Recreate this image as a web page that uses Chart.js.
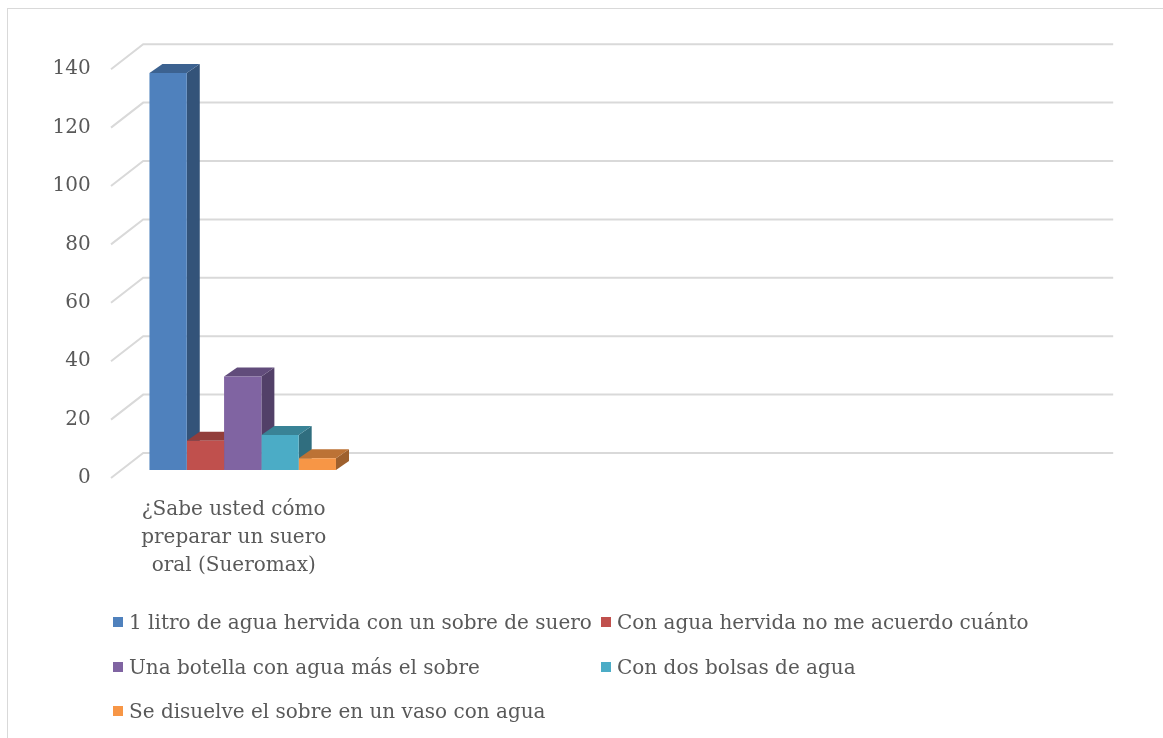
<!DOCTYPE html>
<html>
<head>
<meta charset="utf-8">
<script src="https://cdn.jsdelivr.net/npm/chart.js@4.4.1/dist/chart.umd.min.js"></script>
<style>
  html, body { margin:0; padding:0; background:#fff; overflow:hidden; }
  #wrap { position:relative; width:1163px; height:738px; overflow:hidden; }
  #frame { position:absolute; left:7px; top:8px; width:1300px; height:900px; border:1px solid #d9d9d9; box-sizing:border-box; }
  canvas { position:absolute; left:0; top:0; }
  #legend { position:absolute; left:113px; top:600px; display:grid; grid-template-columns:488px auto; grid-auto-rows:44.5px;
            font-family:'DejaVu Serif', serif; font-size:20px; color:#595959; }
  #legend .item { display:flex; align-items:center; white-space:nowrap; }
  #legend .sw { display:inline-block; width:10px; height:10px; margin-right:6px; }
</style>
</head>
<body>
<div id="wrap">
  <div id="frame"></div>
  <canvas id="c" width="1163" height="738"></canvas>
  <div id="legend"></div>
</div>
<script>
// ---- data ----
const categories = [["¿Sabe usted cómo", "preparar un suero", "oral (Sueromax)"], "", "", ""];
const seriesNames = [
  "1 litro de agua hervida con un sobre de suero",
  "Con agua hervida no me acuerdo cuánto",
  "Una botella con agua más el sobre",
  "Con dos bolsas de agua",
  "Se disuelve el sobre en un vaso con agua"
];
const seriesValues = [136, 10, 32, 12, 4];
const seriesColors = ["#4F81BD", "#C0504D", "#8064A2", "#4BACC6", "#F79646"];
const yTicks = [0, 20, 40, 60, 80, 100, 120, 140];

// ---- helpers ----
function shade(hex, f) {
  const n = parseInt(hex.slice(1), 16);
  const r = Math.round(((n >> 16) & 255) * f), g = Math.round(((n >> 8) & 255) * f), b = Math.round((n & 255) * f);
  return `rgb(${r},${g},${b})`;
}

const DX = 13, DY = 9;             // bar depth
const WF_X = 10.6, WF_Y = 8;       // bar plane -> front of floor
const WB_X = 21.6, WB_Y = 17;      // bar plane -> back wall

const grid3d = {
  id: 'grid3d',
  beforeDatasetsDraw(chart) {
    const ctx = chart.ctx, y = chart.scales.y, a = chart.chartArea;
    ctx.save();
    ctx.strokeStyle = '#d9d9d9';
    ctx.lineWidth = 2;
    yTicks.forEach(v => {
      const py = y.getPixelForValue(v);
      ctx.beginPath();
      ctx.moveTo(a.left - WF_X, py + WF_Y);
      ctx.lineTo(a.left + WB_X, py - WB_Y);
      ctx.lineTo(a.right + WB_X + 1, py - WB_Y);
      ctx.stroke();
    });
    // sides and tops of bars, left to right
    chart.data.datasets.forEach((ds, di) => {
      const meta = chart.getDatasetMeta(di);
      meta.data.forEach((el, i) => {
        if (ds.data[i] == null) return;
        const p = el.getProps(['x', 'y', 'base', 'width'], true);
        const l = p.x - p.width / 2, r = p.x + p.width / 2;
        ctx.fillStyle = shade(seriesColors[di], 0.64);
        ctx.beginPath();
        ctx.moveTo(r, p.y); ctx.lineTo(r + DX, p.y - DY); ctx.lineTo(r + DX, p.base - DY); ctx.lineTo(r, p.base);
        ctx.closePath(); ctx.fill();
        ctx.fillStyle = shade(seriesColors[di], 0.76);
        ctx.beginPath();
        ctx.moveTo(l, p.y); ctx.lineTo(l + DX, p.y - DY); ctx.lineTo(r + DX, p.y - DY); ctx.lineTo(r, p.y);
        ctx.closePath(); ctx.fill();
      });
    });
    ctx.restore();
  }
};

const datasets = seriesNames.map((name, i) => ({
  label: name,
  data: categories.map((c, ci) => ci === 0 ? seriesValues[i] : null),
  backgroundColor: seriesColors[i],
  borderWidth: 0,
  categoryPercentage: 0.77,
  barPercentage: 1.0
}));

const tickFont = { family: 'DejaVu Serif', size: 20, lineHeight: 1.4 };

new Chart(document.getElementById('c'), {
  type: 'bar',
  data: { labels: categories, datasets },
  options: {
    responsive: false,
    animation: false,
    devicePixelRatio: 1,
    layout: { padding: { top: 61.2, right: 72.4, left: 0, bottom: 0 } },
    plugins: { legend: { display: false }, tooltip: { enabled: false } },
    scales: {
      x: {
        grid: { display: false, drawTicks: false },
        border: { display: false },
        ticks: { padding: 26, labelOffset: -9, font: tickFont, color: '#595959', maxRotation: 0, autoSkip: false },
        afterFit(s) { s.height = 268; }
      },
      y: {
        min: 0, max: 140,
        grid: { display: false, drawTicks: false },
        border: { display: false },
        ticks: { stepSize: 20, padding: 31, labelOffset: 8, font: tickFont, color: '#595959' },
        afterFit(s) { s.width = 121.6; }
      }
    }
  },
  plugins: [grid3d]
});

// legend (HTML)
const lg = document.getElementById('legend');
seriesNames.forEach((n, i) => {
  const d = document.createElement('div');
  d.className = 'item';
  d.innerHTML = `<span class="sw" style="background:${seriesColors[i]}"></span><span>${n}</span>`;
  lg.appendChild(d);
});
</script>
</body>
</html>
